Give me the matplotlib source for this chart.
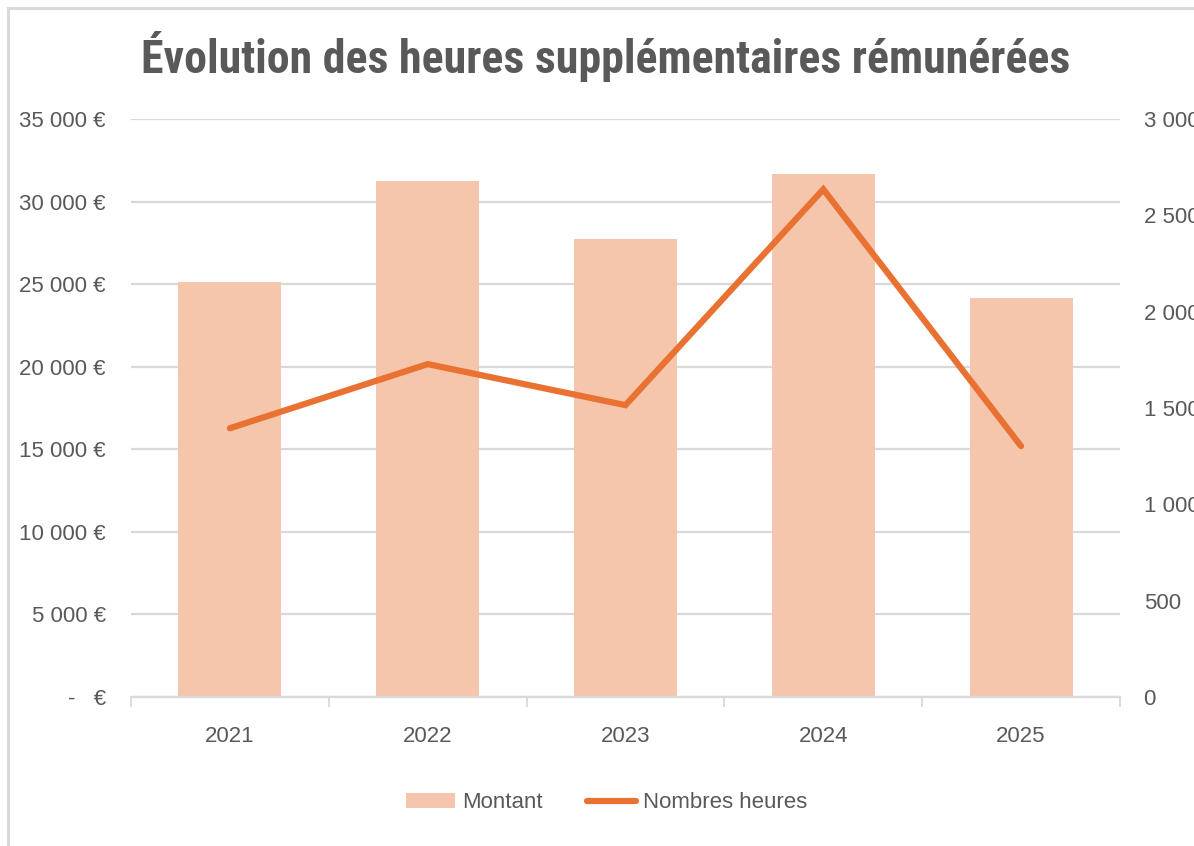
import matplotlib
matplotlib.use("Agg")
import matplotlib.pyplot as plt
from matplotlib import font_manager
from matplotlib.patches import Rectangle
import numpy as np

# Data
years = ["2021", "2022", "2023", "2024", "2025"]
montant = [25150, 31270, 27730, 31650, 24170]      # euros (left axis)
heures = [1395, 1728, 1515, 2635, 1302]            # hours (right axis)
left_ticks = [0, 5000, 10000, 15000, 20000, 25000, 30000, 35000]
right_ticks = [0, 500, 1000, 1500, 2000, 2500, 3000]

BAR_COLOR = "#F5C6AB"
LINE_COLOR = "#E97132"
GRID_COLOR = "#D9D9D9"
TEXT_COLOR = "#595959"

available = {f.name for f in font_manager.fontManager.ttflist}
title_font = "Roboto"
for name in ["Roboto Condensed", "Liberation Sans Narrow", "DejaVu Sans Condensed"]:
    if name in available:
        title_font = name
        break

plt.rcParams["font.family"] = ["Liberation Sans", "DejaVu Sans"]


def euro_fmt(v):
    if v == 0:
        return "-   €"
    return f"{v:,.0f}".replace(",", " ") + " €"


def num_fmt(v):
    return f"{v:,.0f}".replace(",", " ")


fig = plt.figure(figsize=(11.94, 8.46), dpi=100)
ax = fig.add_axes([0.1097, 0.1761, 0.8283, 0.6832])

x = np.arange(len(years))
ax.bar(x, montant, width=0.52, color=BAR_COLOR, label="Montant", zorder=2)
ax.set_xlim(-0.5, len(years) - 0.5)
ax.set_ylim(0, 35000)
ax.set_yticks(left_ticks)
ax.set_yticklabels([euro_fmt(v) for v in left_ticks])
ax.set_axisbelow(True)
ax.grid(axis="y", color=GRID_COLOR, linewidth=1.6)
ax.set_xticks(x)
ax.set_xticklabels(years)
ax.set_xticks(np.arange(-0.5, len(years)), minor=True)
ax.tick_params(axis="x", which="major", length=0, pad=21, labelsize=16,
               labelcolor=TEXT_COLOR)
ax.tick_params(axis="x", which="minor", length=7, width=1.3, color=GRID_COLOR)
ax.tick_params(axis="y", length=0, pad=18, labelsize=16, labelcolor=TEXT_COLOR)
for side in ["top", "left", "right"]:
    ax.spines[side].set_visible(False)
ax.spines["bottom"].set_color(GRID_COLOR)
ax.spines["bottom"].set_linewidth(1.6)

ax2 = ax.twinx()
ax2.plot(x, heures, color=LINE_COLOR, linewidth=4.5, solid_capstyle="round",
         solid_joinstyle="miter", label="Nombres heures", zorder=3)
ax2.set_ylim(0, 3000)
ax2.set_yticks(right_ticks)
ax2.set_yticklabels([num_fmt(v) for v in right_ticks])
ax2.tick_params(axis="y", length=0, pad=17, labelsize=16, labelcolor=TEXT_COLOR)
for side in ax2.spines:
    ax2.spines[side].set_visible(False)

fig.text(0.5075, 0.933, "Évolution des heures supplémentaires rémunérées",
         ha="center", va="center", fontsize=33, fontweight="bold",
         color=TEXT_COLOR, family=[title_font, "DejaVu Sans"])

h1, l1 = ax.get_legend_handles_labels()
h2, l2 = ax2.get_legend_handles_labels()
fig.legend(h1 + h2, l1 + l2, loc="center", bbox_to_anchor=(0.508, 0.051),
           ncol=2, frameon=False, fontsize=16, handlelength=2.2,
           handletextpad=0.3, columnspacing=2.0, labelcolor=TEXT_COLOR)

# light chart frame, cropped on the right and bottom like the screenshot
fig.patches.append(Rectangle((8 / 1194, -0.1), 1.2, 1.1 - 8 / 846,
                             transform=fig.transFigure, fill=False,
                             edgecolor=GRID_COLOR, linewidth=2.2))

fig.savefig("out.png", dpi=100)
plt.close(fig)
